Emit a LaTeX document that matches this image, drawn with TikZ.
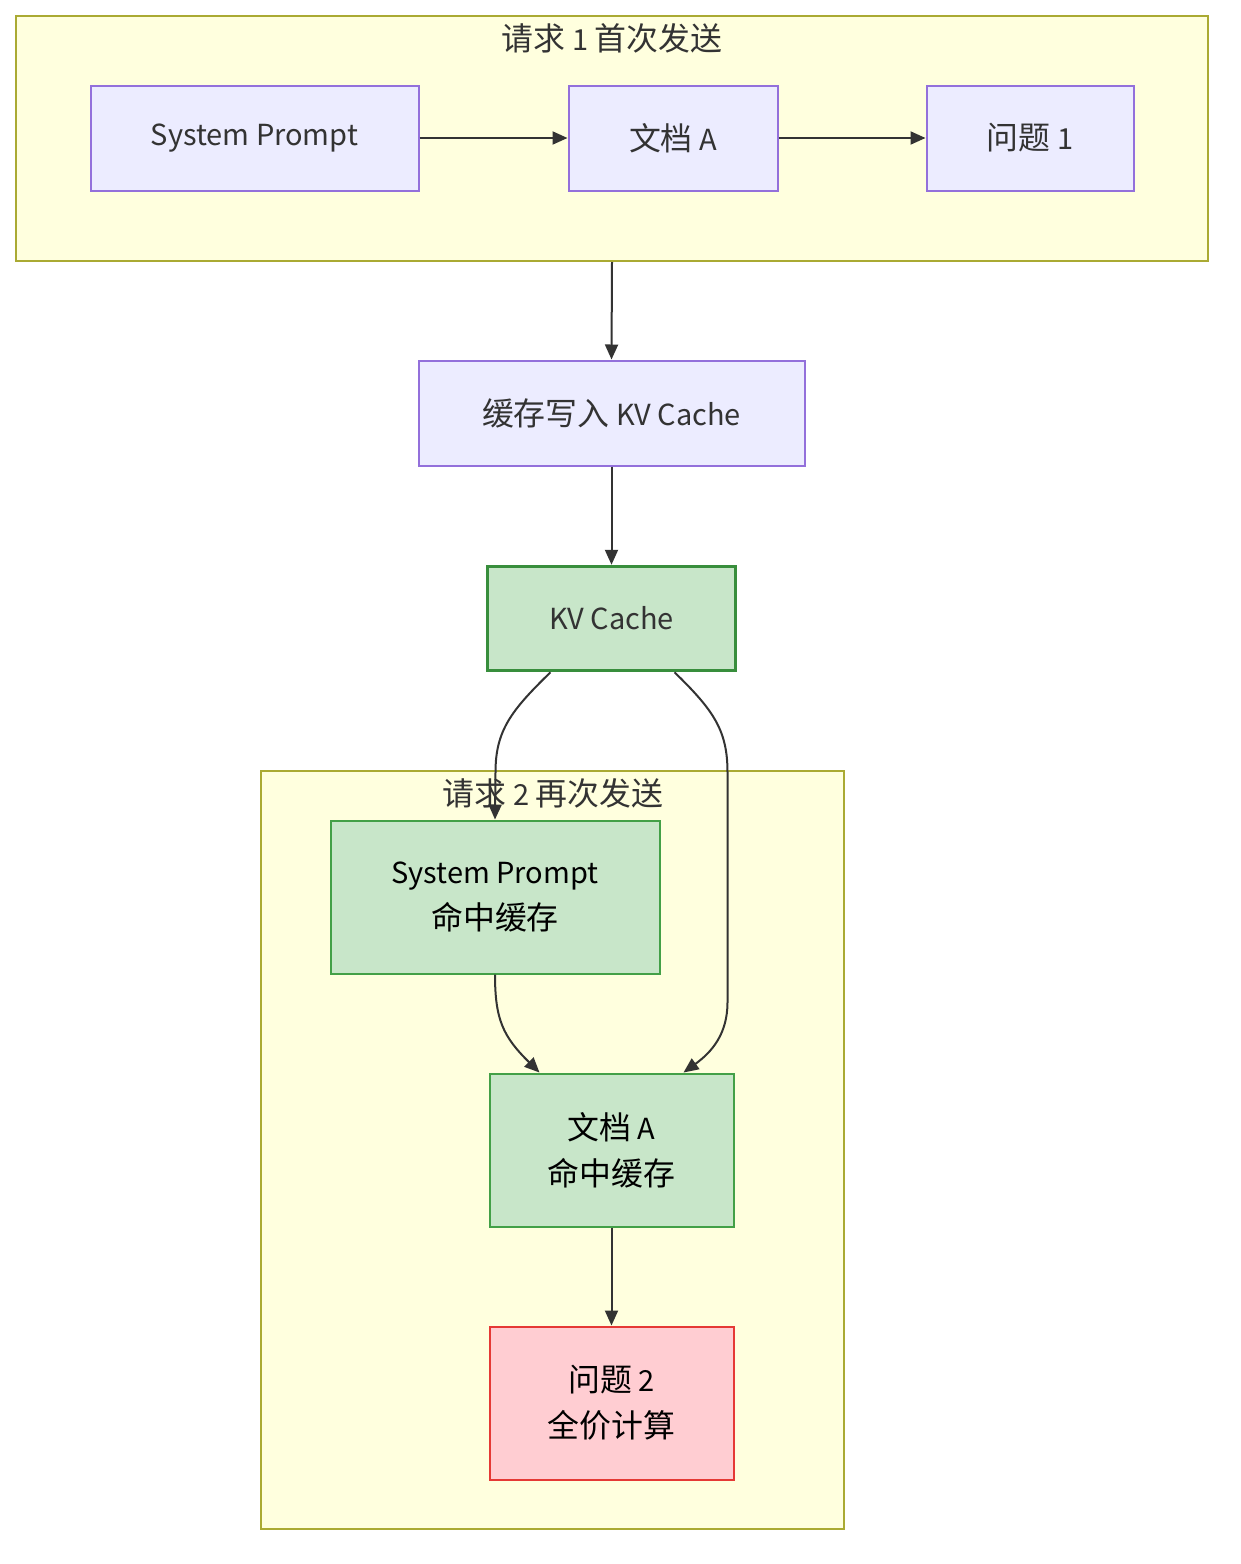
\documentclass[tikz,border=0pt]{standalone}
\usepackage{fontspec}
\setmainfont{Noto Sans CJK SC}
\newfontfamily\zhfont[Scale=1.1]{Noto Sans CJK SC}
\newcommand\zh[1]{{\zhfont #1}}
\usetikzlibrary{arrows.meta,calc}
\definecolor{clfill}{HTML}{FFFFDE}
\definecolor{cldraw}{HTML}{AAAA33}
\definecolor{nfill}{HTML}{ECECFF}
\definecolor{ndraw}{HTML}{9370DB}
\definecolor{gfill}{HTML}{C8E6C9}
\definecolor{gdraw}{HTML}{43A047}
\definecolor{kdraw}{HTML}{388E3C}
\definecolor{rfill}{HTML}{FFCDD2}
\definecolor{rdraw}{HTML}{E53935}
\definecolor{txt}{HTML}{333333}
\definecolor{edge}{HTML}{333333}
\tikzset{
  cluster/.style={draw=cldraw,fill=clfill,line width=2pt,inner sep=0pt},
  cltitle/.style={text=txt,font=\fontsize{29}{32}\selectfont,inner sep=0pt},
  nbox/.style={draw=ndraw,fill=nfill,line width=2pt,text=txt,font=\fontsize{29}{32}\selectfont,inner sep=0pt,align=center},
  gbox/.style={draw=gdraw,fill=gfill,line width=2pt,text=black,font=\fontsize{29}{46}\selectfont,inner sep=0pt,align=center},
  kbox/.style={draw=kdraw,fill=gfill,line width=3.5pt,text=txt,font=\fontsize{29}{32}\selectfont,inner sep=0pt,align=center},
  rbox/.style={draw=rdraw,fill=rfill,line width=2pt,text=black,font=\fontsize{29}{46}\selectfont,inner sep=0pt,align=center},
  conn/.style={draw=edge,line width=2pt,-{Triangle[length=15pt,width=13pt]}}
}
\begin{document}
\begin{tikzpicture}[x=1pt,y=-1pt]
\useasboundingbox (0,0) rectangle (1240,1564);
% clusters
\node[cluster,minimum width=1192pt,minimum height=245pt] (c1) at (612,138.5) {};
\node[cltitle] (c1t) at (612,38) {\zh{请求} 1 \zh{首次发送}};
\node[cluster,minimum width=583pt,minimum height=758pt] (c2) at (552.5,1150) {};
% nodes
\node[nbox,minimum width=328pt,minimum height=105pt] (sp1) at (254.5,138) {System Prompt};
\node[nbox,minimum width=209pt,minimum height=105pt] (da1) at (673,138) {\zh{文档} A};
\node[nbox,minimum width=207pt,minimum height=105pt] (q1) at (1030,138) {\zh{问题} 1};
\node[nbox,minimum width=386pt,minimum height=105pt] (cw) at (611.5,413) {\zh{缓存写入} KV Cache};
\node[kbox,minimum width=248pt,minimum height=104pt] (kv) at (611.5,618.5) {KV Cache};
\node[gbox,minimum width=329pt,minimum height=153pt] (sp2) at (495,897) {System Prompt\\\zh{命中缓存}};
\node[gbox,minimum width=244pt,minimum height=153pt] (da2) at (611.5,1150) {\zh{文档} A\\\zh{命中缓存}};
\node[rbox,minimum width=244pt,minimum height=153pt] (q2) at (611.5,1403) {\zh{问题} 2\\\zh{全价计算}};
% edges
\draw[conn] (sp1) -- (da1);
\draw[conn] (da1) -- (q1);
\draw[conn] (c1.south) -- (cw.north);
\draw[conn] (cw) -- (kv);
\draw[conn] ($(kv.south)+(-61,0)$) .. controls ($(kv.south)+(-100,38)$) and ($(kv.south)+(-116,58)$) .. ($(kv.south)+(-116,100)$) -- (sp2.north);
\draw[conn] ($(kv.south)+(63,0)$) .. controls ($(kv.south)+(102,38)$) and ($(kv.south)+(116,58)$) .. ($(kv.south)+(116,100)$) -- ($(kv.south)+(116,330)$) .. controls ($(kv.south)+(116,362)$) and ($(kv.south)+(100,380)$) .. ($(da2.north)+(72,0)$);
\draw[conn] (sp2.south) .. controls ($(sp2.south)+(0,45)$) and ($(sp2.south)+(8,62)$) .. ($(da2.north)+(-72,0)$);
\draw[conn] (da2) -- (q2);
% cluster 2 title on top of edge
\node[cltitle] (c2t) at (553,793) {\zh{请求} 2 \zh{再次发送}};
\end{tikzpicture}
\end{document}
